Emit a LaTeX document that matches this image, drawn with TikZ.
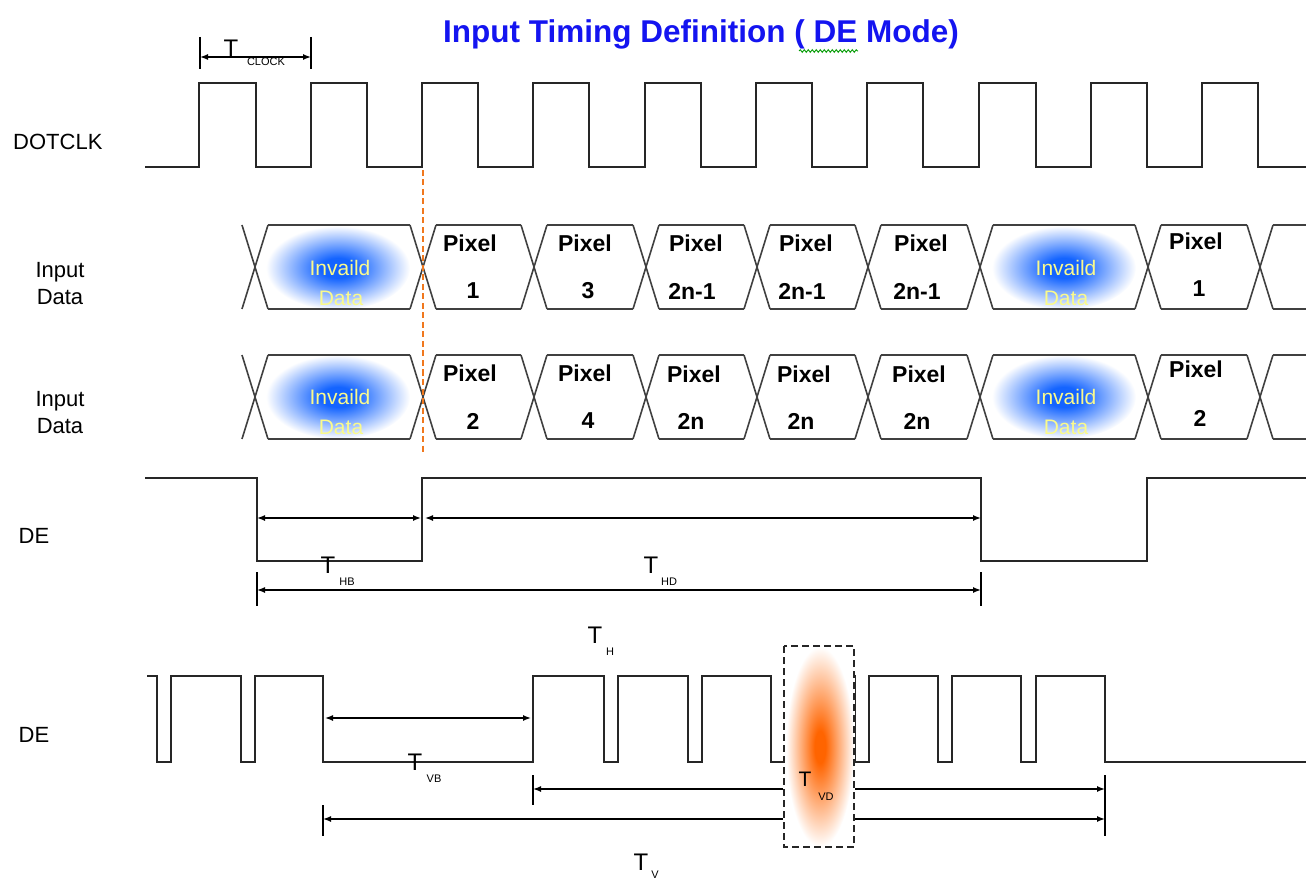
\documentclass[tikz,border=0pt]{standalone}
\usepackage{fontspec}
\setmainfont{Liberation Sans}
\usetikzlibrary{arrows.meta,decorations.pathmorphing}
\definecolor{titleblue}{RGB}{20,20,240}
\definecolor{glowblue}{RGB}{20,100,255}
\definecolor{gloworange}{RGB}{255,100,0}
\definecolor{invyellow}{RGB}{250,250,140}
\definecolor{dashorange}{RGB}{240,120,30}
\pgfdeclareradialshading{blueglow}{\pgfpoint{0bp}{0bp}}{color(0bp)=(glowblue); color(6bp)=(glowblue); color(25bp)=(white); color(50bp)=(white)}
\pgfdeclareradialshading{orangeglow}{\pgfpoint{0bp}{0bp}}{color(0bp)=(gloworange); color(4bp)=(gloworange); color(25bp)=(white); color(50bp)=(white)}
\begin{document}
\begin{tikzpicture}[x=1pt,y=-1pt,
  wave/.style={line width=1.8pt, black!85, line join=miter},
  bus/.style={line width=1.6pt, black!75},
  dim/.style={line width=1.4pt, black, {Latex[length=8pt,width=6pt]}-{Latex[length=8pt,width=6pt]}},
  tick/.style={line width=1.4pt, black},
  sig/.style={font=\fontsize{22}{27}\selectfont, align=center, inner sep=0pt},
  pix/.style={font=\bfseries\fontsize{23}{25}\selectfont, inner sep=0pt},
  inv/.style={font=\fontsize{21}{23}\selectfont, text=invyellow, inner sep=0pt},
  Tl/.style={font=\fontsize{24}{26}\selectfont, inner sep=0pt},
  Ts/.style={font=\fontsize{11}{12}\selectfont, inner sep=0pt},
]
\useasboundingbox (0,0) rectangle (1306,882);

% title
\node[font=\bfseries\fontsize{31.5}{34}\selectfont, text=titleblue, inner sep=0pt] (title) at (701,34) {Input Timing Definition ( DE Mode)};
\draw[green!60!black, line width=0.9pt, decorate, decoration={snake, amplitude=1.3pt, segment length=4pt}] (799,51) -- (858,51);

% signal labels
\node[sig, anchor=west] (lclk) at (13,142) {DOTCLK};
\node[sig] (ld1) at (60,284) {Input\\Data};
\node[sig] (ld2) at (60,413) {Input\\Data};
\node[sig] (lde1) at (34,536) {DE};
\node[sig] (lde2) at (34,735) {DE};

% glows
\foreach \cx/\cy in {338/268, 1064/268, 338/397, 1064/397}
  \shade[shading=blueglow] (\cx,\cy) ellipse [x radius=72, y radius=42];

% DOTCLK
\draw[wave] (145,167)
  \foreach \r/\f in {199/256, 311/367, 422/478, 533/589, 645/701, 756/812, 867/923, 979/1036, 1091/1147, 1202/1258}
  { -- (\r,167) -- (\r,83) -- (\f,83) -- (\f,167) } -- (1306,167);

% T_CLOCK
\coordinate (ck1) at (200,57); \coordinate (ck2) at (311,57);
\draw[tick] (200,37) -- (200,69); \draw[tick] (311,37) -- (311,69);
\draw[dim] (ck1) -- (ck2);
\node[Tl, anchor=south] (tck) at (231,57) {T};
\node[Ts] (tcks) at (266,62) {CLOCK};

% data rows
\foreach \top/\bot in {225/309, 355/439} {
  \foreach \t in {255,423,534,646,757,868,980,1148,1260}
    \draw[bus] (\t-13,\top) -- (\t+13,\bot) (\t-13,\bot) -- (\t+13,\top);
  \foreach \a/\b in {255/423, 423/534, 534/646, 646/757, 757/868, 868/980, 980/1148, 1148/1260}
    \draw[bus] (\a+13,\top) -- (\b-13,\top) (\a+13,\bot) -- (\b-13,\bot);
  \draw[bus] (1273,\top) -- (1306,\top) (1273,\bot) -- (1306,\bot);
}

% invalid data texts
\node[inv] (iv1) at (340,268) {Invaild};  \node[inv] (iv1b) at (341,298) {Data};
\node[inv] (iv2) at (1066,268) {Invaild}; \node[inv] (iv2b) at (1066,298) {Data};
\node[inv] (iv3) at (340,397) {Invaild};  \node[inv] (iv3b) at (341,427) {Data};
\node[inv] (iv4) at (1066,397) {Invaild}; \node[inv] (iv4b) at (1066,427) {Data};

% pixel labels row 1
\node[pix] (p11) at (470,243) {Pixel}; \node[pix] (n11) at (473,291) {1};
\node[pix] (p12) at (585,243) {Pixel}; \node[pix] (n12) at (588,291) {3};
\node[pix] (p13) at (696,243) {Pixel}; \node[pix] (n13) at (692,291) {2n-1};
\node[pix] (p14) at (806,243) {Pixel}; \node[pix] (n14) at (802,291) {2n-1};
\node[pix] (p15) at (921,243) {Pixel}; \node[pix] (n15) at (917,291) {2n-1};
\node[pix] (p16) at (1196,241) {Pixel}; \node[pix] (n16) at (1199,289) {1};
% pixel labels row 2
\node[pix] (p21) at (470,373) {Pixel}; \node[pix] (n21) at (473,421) {2};
\node[pix] (p22) at (585,373) {Pixel}; \node[pix] (n22) at (588,421) {4};
\node[pix] (p23) at (694,374) {Pixel}; \node[pix] (n23) at (691,421) {2n};
\node[pix] (p24) at (804,374) {Pixel}; \node[pix] (n24) at (801,421) {2n};
\node[pix] (p25) at (919,374) {Pixel}; \node[pix] (n25) at (917,421) {2n};
\node[pix] (p26) at (1196,369) {Pixel}; \node[pix] (n26) at (1200,418) {2};

% orange dashed marker
\coordinate (mk1) at (423,170); \coordinate (mk2) at (423,455);
\draw[dashorange, line width=2.6pt, dash pattern=on 6pt off 3.5pt] (mk1) -- (mk2);

% DE row 1
\draw[wave] (145,478) -- (257,478) -- (257,561) -- (422,561) -- (422,478) -- (981,478) -- (981,561) -- (1147,561) -- (1147,478) -- (1306,478);
\coordinate (hb1) at (257,518); \coordinate (hb2) at (421,518);
\coordinate (hd1) at (425,518); \coordinate (hd2) at (981,518);
\draw[dim] (hb1) -- (hb2);
\draw[dim] (hd1) -- (hd2);
\coordinate (h1) at (257,590); \coordinate (h2) at (981,590);
\draw[tick] (257,572) -- (257,606); \draw[tick] (981,572) -- (981,606);
\draw[dim] (h1) -- (h2);
\node[Tl] (thb) at (328,565) {T}; \node[Ts] (thbs) at (347,582) {HB};
\node[Tl] (thd) at (651,565) {T}; \node[Ts] (thds) at (669,582) {HD};

% DE row 2
\draw[wave] (147,676) -- (157,676) -- (157,762) -- (171,762) -- (171,676) -- (241,676) -- (241,762) -- (255,762) -- (255,676) -- (323,676) -- (323,762) -- (533,762) -- (533,676) -- (604,676) -- (604,762) -- (618,762) -- (618,676) -- (688,676) -- (688,762) -- (702,762) -- (702,676) -- (771,676) -- (771,762) -- (785,762) -- (785,676) -- (855,676) -- (855,762) -- (869,762) -- (869,676) -- (938,676) -- (938,762) -- (952,762) -- (952,676) -- (1021,676) -- (1021,762) -- (1036,762) -- (1036,676) -- (1105,676) -- (1105,762) -- (1306,762);

\coordinate (vb1) at (325,718); \coordinate (vb2) at (531,718);
\draw[dim] (vb1) -- (vb2);
\node[Tl] (tvb) at (415,762) {T}; \node[Ts] (tvbs) at (434,779) {VB};
\node[Tl] (th) at (595,635) {T}; \node[Ts] (ths) at (610,652) {H};

\coordinate (vd1) at (533,789); \coordinate (vd2) at (1105,789);
\coordinate (v1) at (323,819); \coordinate (v2) at (1105,819);
\draw[tick] (533,775) -- (533,805);
\draw[tick] (323,805) -- (323,836);
\draw[tick] (1105,775) -- (1105,836);
\draw[dim] (vd1) -- (vd2);
\draw[dim] (v1) -- (v2);
\node[Tl] (tv) at (641,862) {T}; \node[Ts] (tvs) at (655,875) {V};

% highlighted box
\fill[white] (783,645) rectangle (855,848);
\shade[shading=orangeglow] (820,747) ellipse [x radius=34, y radius=100];
\draw[black!85, line width=2.4pt, dash pattern=on 7pt off 4pt] (784,646) rectangle (854,847);
\node[Tl, font=\fontsize{21}{23}\selectfont] (tvd) at (805,779) {T}; \node[Ts] (tvds) at (826,797) {VD};
\end{tikzpicture}
\end{document}
